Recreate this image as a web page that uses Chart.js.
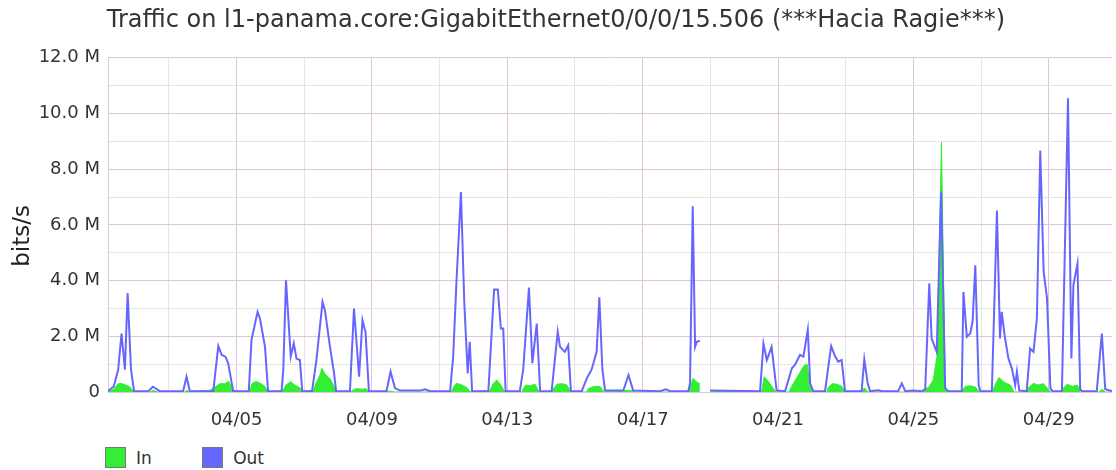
<!DOCTYPE html>
<html>
<head>
<meta charset="utf-8">
<script src="https://cdn.jsdelivr.net/npm/chart.js@4.4.1/dist/chart.umd.min.js"></script>
<style>
  body { margin: 0; background: #fff; font-family: "DejaVu Sans", sans-serif; }
  #wrap { position: relative; width: 1116px; height: 470px; }
  #legend { position: absolute; left: 105px; top: 447px; font-size: 17px; color: #333; }
  .item { display: inline-block; margin-right: 45px; }
  .sw { display: inline-block; width: 19px; height: 19px; border: 1px solid #777; vertical-align: -4px; margin-right: 10px; }
</style>
</head>
<body>
<div id="wrap">
  <canvas id="chart" width="1116" height="440"></canvas>
  <div id="legend">
    <span class="item"><span class="sw" style="background:#33ee33"></span>In</span>
    <span class="item"><span class="sw" style="background:#6666ff"></span>Out</span>
  </div>
</div>
<script>
// dias de abril (fraccion de dia) y Mbit/s
const outDays = [1.20,1.37,1.50,1.60,1.70,1.78,1.88,1.97,2.39,2.53,2.73,3.42,3.52,3.62,4.31,4.46,4.56,4.67,4.75,4.90,
  5.36,5.44,5.62,5.69,5.84,5.93,6.33,6.38,6.46,6.60,6.69,6.77,6.87,6.94,7.23,7.36,7.54,7.61,7.76,7.88,7.94,
  8.35,8.47,8.62,8.72,8.81,8.91,9.43,9.55,9.68,9.83,10.42,10.57,10.71,11.31,11.40,11.50,11.63,11.73,11.83,11.89,11.96,
  12.44,12.61,12.72,12.81,12.88,12.95,13.37,13.47,13.64,13.74,13.87,13.97,14.31,14.49,14.56,14.70,14.80,14.88,
  15.20,15.35,15.49,15.64,15.72,15.81,15.89,16.43,16.58,16.72,17.51,17.69,17.81,18.35,18.40,18.48,18.55,18.60,18.69,18.80,
  18.99,20.47,20.57,20.67,20.81,20.96,21.21,21.41,21.50,21.65,21.75,21.88,21.95,22.04,22.39,22.57,22.69,22.78,22.88,22.98,
  23.47,23.55,23.65,23.72,23.96,24.08,24.55,24.66,24.76,24.99,25.26,25.35,25.47,25.54,25.69,25.82,25.94,26.03,
  26.43,26.48,26.58,26.68,26.75,26.83,26.93,26.98,27.32,27.47,27.56,27.61,27.71,27.81,27.91,28.01,28.06,28.13,
  28.35,28.45,28.55,28.65,28.75,28.85,28.95,29.05,29.11,29.39,29.57,29.67,29.73,29.85,29.93,29.99,30.42,30.57,30.67,30.87];
const outMbps = [0.03,0.2,0.8,2.1,0.8,3.55,0.8,0.03,0.03,0.19,0.03,0.03,0.55,0.03,0.03,1.65,1.33,1.27,1.04,0.03,
  0.03,1.86,2.88,2.64,1.62,0.03,0.03,0.8,4.01,1.27,1.75,1.2,1.15,0.03,0.03,1.15,3.24,2.94,1.62,0.68,0.03,
  0.03,3.0,0.55,2.58,2.16,0.03,0.03,0.73,0.14,0.05,0.05,0.1,0.03,0.03,1.27,4.01,7.18,3.18,0.67,1.8,0.03,
  0.03,3.68,3.68,2.28,2.28,0.03,0.03,0.8,3.75,1.03,2.46,0.03,0.03,2.16,1.62,1.44,1.68,0.03,
  0.03,0.49,0.8,1.44,3.4,0.8,0.05,0.05,0.61,0.05,0.03,0.1,0.03,0.03,0.31,6.67,1.62,1.8,1.84,null,
  0.05,0.03,1.74,1.15,1.62,0.05,0.03,0.85,0.97,1.33,1.27,2.24,0.31,0.03,0.03,1.65,1.27,1.09,1.15,0.03,
  0.03,1.17,0.31,0.03,0.06,0.03,0.03,0.31,0.03,0.05,0.03,0.1,3.9,1.92,1.44,7.2,0.14,0.03,
  0.03,3.59,1.98,2.1,2.52,4.55,0.25,0.03,0.03,6.52,1.92,2.88,1.92,1.2,0.85,0.25,0.73,0.05,
  0.03,1.56,1.44,2.64,8.67,4.31,3.36,0.13,0.03,0.03,10.55,1.2,3.84,4.61,0.1,0.03,0.03,2.1,0.1,0.03];

const inDays = [1.20,1.37,1.50,1.60,1.72,1.83,1.97,2.44,2.53,2.67,3.47,3.53,3.62,3.91,4.21,4.39,4.51,4.65,4.77,4.89,
  5.39,5.45,5.57,5.69,5.84,5.93,6.37,6.46,6.60,6.72,6.87,6.94,7.15,7.27,7.34,7.46,7.52,7.61,7.70,7.78,7.88,7.94,
  8.38,8.41,8.53,8.71,8.83,8.91,9.53,9.68,11.35,11.40,11.49,11.60,11.78,11.92,12.49,12.58,12.69,12.81,12.93,
  13.43,13.46,13.55,13.67,13.82,13.94,14.32,14.35,14.47,14.62,14.76,14.88,15.35,15.39,15.56,15.74,15.86,16.49,16.63,16.77,
  18.36,18.40,18.49,18.60,18.69,18.80,18.99,19.43,19.67,19.88,20.50,20.53,20.59,20.70,20.82,20.94,
  21.33,21.36,21.50,21.65,21.77,21.86,21.95,22.04,22.45,22.48,22.60,22.75,22.89,22.98,23.47,23.55,23.66,
  25.30,25.35,25.47,25.59,25.70,25.83,25.94,26.03,26.41,26.53,26.68,26.83,26.95,27.35,27.39,27.53,27.68,27.86,27.98,
  28.37,28.40,28.55,28.69,28.84,28.99,29.05,29.41,29.44,29.55,29.70,29.85,29.93,30.49,30.58,30.67,30.87];
const inMbps = [0,0.1,0.3,0.31,0.25,0.2,0,0,0.06,0,0,0.06,0,0.04,0.06,0.2,0.3,0.3,0.38,0.05,
  0,0.3,0.38,0.32,0.2,0,0.05,0.25,0.37,0.25,0.15,0,0.05,0.05,0.3,0.6,0.85,0.65,0.55,0.45,0.2,0,
  0,0.05,0.12,0.1,0.12,0,0.03,0,0,0.15,0.31,0.28,0.18,0,0.05,0.3,0.43,0.25,0,
  0,0.1,0.25,0.22,0.28,0,0,0.1,0.28,0.3,0.25,0,0,0.12,0.2,0.2,0,0.05,0.06,0,
  0,0.15,0.49,0.35,0.3,null,0,0.04,0.06,0,0,0.1,0.55,0.4,0.2,0,
  0,0.1,0.4,0.7,0.95,1.0,0.2,0,0,0.15,0.3,0.28,0.2,0,0,0.15,0,
  0,0.1,0.19,0.45,1.3,8.97,0.14,0,0,0.2,0.22,0.18,0,0,0.2,0.52,0.35,0.25,0,
  0,0.15,0.31,0.25,0.3,0.1,0,0,0.15,0.28,0.2,0.25,0,0,0.1,0,0];

// lineas verticales cada 2 dias, etiquetas cada 4
const xGridDays = [3,5,7,9,11,13,15,17,19,21,23,25,27,29];
const xLabelDays = [5,9,13,17,21,25,29];
const xLabels = ["04/05","04/09","04/13","04/17","04/21","04/25","04/29"];

const FONT = "DejaVu Sans";
const majorGrid = "#dcc6de";
const minorGrid = "#e4e4e4";

const toPoints = (xs, ys) => xs.map((x, i) => ({ x, y: ys[i] }));

new Chart(document.getElementById("chart"), {
  type: "line",
  data: {
    datasets: [
      {
        label: "Out",
        data: toPoints(outDays, outMbps),
        borderColor: "#6666ff",
        borderWidth: 2,
        pointRadius: 0,
        fill: false,
        tension: 0,
        spanGaps: false
      },
      {
        label: "In",
        data: toPoints(inDays, inMbps),
        borderColor: "#33ee33",
        backgroundColor: "#33ee33",
        borderWidth: 1,
        pointRadius: 0,
        fill: "origin",
        tension: 0,
        spanGaps: false
      }
    ]
  },
  options: {
    responsive: false,
    animation: false,
    devicePixelRatio: 1,
    layout: { padding: { left: 0, right: 4, top: 0, bottom: 0 } },
    plugins: {
      legend: { display: false },
      tooltip: { enabled: false },
      title: {
        display: true,
        text: "Traffic on l1-panama.core:GigabitEthernet0/0/0/15.506 (***Hacia Ragie***)",
        color: "#333",
        font: { family: FONT, size: 24, weight: "normal" },
        padding: { top: 6, bottom: 23 }
      }
    },
    scales: {
      x: {
        type: "linear",
        min: 1.2,
        max: 30.87,
        afterBuildTicks: (s) => { s.ticks = xGridDays.map(v => ({ value: v })); },
        afterFit: (s) => { s.height = 48; },
        ticks: {
          autoSkip: false,
          maxRotation: 0,
          padding: 18,
          color: "#333",
          font: { family: FONT, size: 18 },
          callback: (v) => {
            const i = xLabelDays.indexOf(v);
            return i >= 0 ? xLabels[i] : "";
          }
        },
        grid: {
          drawTicks: false,
          color: (c) => (c.tick && xLabelDays.includes(c.tick.value)) ? majorGrid : minorGrid
        },
        border: { display: false }
      },
      y: {
        min: 0,
        max: 12,
        afterFit: (s) => { s.width = 108; },
        ticks: {
          stepSize: 1,
          padding: 8,
          color: "#333",
          font: { family: FONT, size: 18 },
          callback: (v) => v === 0 ? "0" : (v % 2 === 0 ? v.toFixed(1) + " M" : "")
        },
        grid: {
          drawTicks: false,
          color: (c) => (c.tick && c.tick.value % 2 === 0) ? majorGrid : minorGrid
        },
        border: { display: true, color: majorGrid },
        title: {
          display: true,
          text: "bits/s   ",
          color: "#222",
          font: { family: FONT, size: 23 },
          padding: { top: 9, bottom: 0 }
        }
      }
    }
  }
});
</script>
</body>
</html>
